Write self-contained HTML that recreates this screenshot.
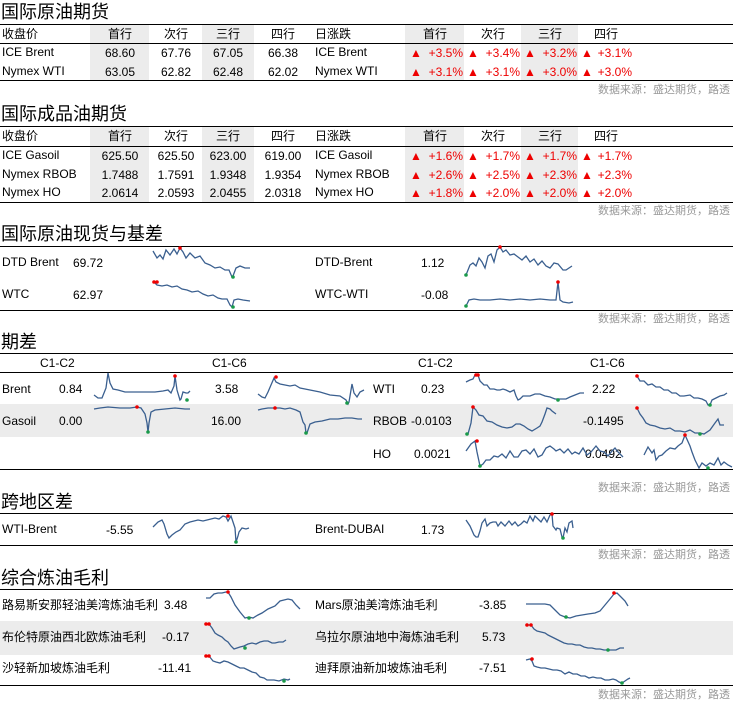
<!DOCTYPE html>
<html><head><meta charset="utf-8"><style>
body{margin:0;width:733px;height:703px;background:#fff;position:relative;overflow:hidden;font-family:"Liberation Sans","Noto Sans CJK SC",sans-serif;font-size:12px;color:#000}
.a{position:absolute;white-space:nowrap;line-height:16px}
.t{position:absolute;font-size:18px;line-height:22px;left:1px}
.l{position:absolute;left:0;width:733px;height:1px;background:#000}
.g{position:absolute;background:#ececec}
.src{position:absolute;right:3px;color:#999;font-size:11px;line-height:14px}
.c{text-align:center;width:60px}
.r{color:#e00;text-align:right;width:54px}
</style></head><body>
<!-- Section 1 -->
<div class="t" style="top:1px">国际原油期货</div>
<div class="g" style="left:90px;top:25px;width:59px;height:55px"></div>
<div class="g" style="left:202px;top:25px;width:52px;height:55px"></div>
<div class="g" style="left:405px;top:25px;width:59px;height:55px"></div>
<div class="g" style="left:521px;top:25px;width:57px;height:55px"></div>
<div class="l" style="top:24px"></div><div class="l" style="top:43px"></div><div class="l" style="top:80px"></div>
<div class="a" style="left:2px;top:26px">收盘价</div>
<div class="a c" style="left:90px;top:26px">首行</div><div class="a c" style="left:146px;top:26px">次行</div><div class="a c" style="left:198px;top:26px">三行</div><div class="a c" style="left:253px;top:26px">四行</div>
<div class="a" style="left:315px;top:26px">日涨跌</div>
<div class="a c" style="left:405px;top:26px">首行</div><div class="a c" style="left:463px;top:26px">次行</div><div class="a c" style="left:520px;top:26px">三行</div><div class="a c" style="left:576px;top:26px">四行</div>
<div class="a" style="left:2px;top:44px">ICE Brent</div><div class="a c" style="left:90px;top:45px">68.60</div><div class="a c" style="left:146px;top:45px">67.76</div><div class="a c" style="left:198px;top:45px">67.05</div><div class="a c" style="left:253px;top:45px">66.38</div><div class="a" style="left:315px;top:44px">ICE Brent</div>
<div class="a" style="left:2px;top:63px">Nymex WTI</div><div class="a c" style="left:90px;top:64px">63.05</div><div class="a c" style="left:146px;top:64px">62.82</div><div class="a c" style="left:198px;top:64px">62.48</div><div class="a c" style="left:253px;top:64px">62.02</div><div class="a" style="left:315px;top:63px">Nymex WTI</div>
<div class="a" style="left:410px;top:45px;color:#e00">▲</div><div class="a r" style="left:409px;top:45px">+3.5%</div>
<div class="a" style="left:467px;top:45px;color:#e00">▲</div><div class="a r" style="left:466px;top:45px">+3.4%</div>
<div class="a" style="left:524px;top:45px;color:#e00">▲</div><div class="a r" style="left:523px;top:45px">+3.2%</div>
<div class="a" style="left:581px;top:45px;color:#e00">▲</div><div class="a r" style="left:578px;top:45px">+3.1%</div>
<div class="a" style="left:410px;top:64px;color:#e00">▲</div><div class="a r" style="left:409px;top:64px">+3.1%</div>
<div class="a" style="left:467px;top:64px;color:#e00">▲</div><div class="a r" style="left:466px;top:64px">+3.1%</div>
<div class="a" style="left:524px;top:64px;color:#e00">▲</div><div class="a r" style="left:523px;top:64px">+3.0%</div>
<div class="a" style="left:581px;top:64px;color:#e00">▲</div><div class="a r" style="left:578px;top:64px">+3.0%</div>
<div class="src" style="top:83px">数据来源：盛达期货，路透</div>
<!-- Section 2 -->
<div class="t" style="top:103px">国际成品油期货</div>
<div class="g" style="left:90px;top:127px;width:59px;height:75px"></div>
<div class="g" style="left:202px;top:127px;width:52px;height:75px"></div>
<div class="g" style="left:405px;top:127px;width:59px;height:75px"></div>
<div class="g" style="left:521px;top:127px;width:57px;height:75px"></div>
<div class="l" style="top:126px"></div><div class="l" style="top:146px"></div><div class="l" style="top:202px"></div>
<div class="a" style="left:2px;top:128px">收盘价</div>
<div class="a c" style="left:90px;top:128px">首行</div><div class="a c" style="left:146px;top:128px">次行</div><div class="a c" style="left:198px;top:128px">三行</div><div class="a c" style="left:253px;top:128px">四行</div>
<div class="a" style="left:315px;top:128px">日涨跌</div>
<div class="a c" style="left:405px;top:128px">首行</div><div class="a c" style="left:463px;top:128px">次行</div><div class="a c" style="left:520px;top:128px">三行</div><div class="a c" style="left:576px;top:128px">四行</div>
<div class="a" style="left:2px;top:147px">ICE Gasoil</div><div class="a c" style="left:90px;top:148px">625.50</div><div class="a c" style="left:146px;top:148px">625.50</div><div class="a c" style="left:198px;top:148px">623.00</div><div class="a c" style="left:253px;top:148px">619.00</div><div class="a" style="left:315px;top:147px">ICE Gasoil</div>
<div class="a" style="left:2px;top:166px">Nymex RBOB</div><div class="a c" style="left:90px;top:167px">1.7488</div><div class="a c" style="left:146px;top:167px">1.7591</div><div class="a c" style="left:198px;top:167px">1.9348</div><div class="a c" style="left:253px;top:167px">1.9354</div><div class="a" style="left:315px;top:166px">Nymex RBOB</div>
<div class="a" style="left:2px;top:184px">Nymex HO</div><div class="a c" style="left:90px;top:185px">2.0614</div><div class="a c" style="left:146px;top:185px">2.0593</div><div class="a c" style="left:198px;top:185px">2.0455</div><div class="a c" style="left:253px;top:185px">2.0318</div><div class="a" style="left:315px;top:184px">Nymex HO</div>
<div class="a" style="left:410px;top:148px;color:#e00">▲</div><div class="a r" style="left:409px;top:148px">+1.6%</div>
<div class="a" style="left:467px;top:148px;color:#e00">▲</div><div class="a r" style="left:466px;top:148px">+1.7%</div>
<div class="a" style="left:524px;top:148px;color:#e00">▲</div><div class="a r" style="left:523px;top:148px">+1.7%</div>
<div class="a" style="left:581px;top:148px;color:#e00">▲</div><div class="a r" style="left:578px;top:148px">+1.7%</div>
<div class="a" style="left:410px;top:167px;color:#e00">▲</div><div class="a r" style="left:409px;top:167px">+2.6%</div>
<div class="a" style="left:467px;top:167px;color:#e00">▲</div><div class="a r" style="left:466px;top:167px">+2.5%</div>
<div class="a" style="left:524px;top:167px;color:#e00">▲</div><div class="a r" style="left:523px;top:167px">+2.3%</div>
<div class="a" style="left:581px;top:167px;color:#e00">▲</div><div class="a r" style="left:578px;top:167px">+2.3%</div>
<div class="a" style="left:410px;top:185px;color:#e00">▲</div><div class="a r" style="left:409px;top:185px">+1.8%</div>
<div class="a" style="left:467px;top:185px;color:#e00">▲</div><div class="a r" style="left:466px;top:185px">+2.0%</div>
<div class="a" style="left:524px;top:185px;color:#e00">▲</div><div class="a r" style="left:523px;top:185px">+2.0%</div>
<div class="a" style="left:581px;top:185px;color:#e00">▲</div><div class="a r" style="left:578px;top:185px">+2.0%</div>
<div class="src" style="top:204px">数据来源：盛达期货，路透</div>
<!-- Section 3 -->
<div class="t" style="top:223px">国际原油现货与基差</div>
<div class="l" style="top:246px"></div><div class="l" style="top:310px"></div>
<div class="a" style="left:2px;top:254px">DTD Brent</div><div class="a" style="left:73px;top:255px">69.72</div>
<div class="a" style="left:2px;top:286px">WTC</div><div class="a" style="left:73px;top:287px">62.97</div>
<div class="a" style="left:315px;top:254px">DTD-Brent</div><div class="a" style="left:421px;top:255px">1.12</div>
<div class="a" style="left:315px;top:286px">WTC-WTI</div><div class="a" style="left:421px;top:287px">-0.08</div>
<div class="src" style="top:312px">数据来源：盛达期货，路透</div>
<!-- Section 4 -->
<div class="t" style="top:331px">期差</div>
<div class="g" style="left:0;top:404px;width:733px;height:33px"></div>
<div class="l" style="top:353px"></div><div class="l" style="top:372px"></div><div class="l" style="top:469px"></div>
<div class="a" style="left:40px;top:355px">C1-C2</div><div class="a" style="left:212px;top:355px">C1-C6</div>
<div class="a" style="left:418px;top:355px">C1-C2</div><div class="a" style="left:590px;top:355px">C1-C6</div>
<div class="a" style="left:2px;top:381px">Brent</div><div class="a" style="left:59px;top:381px">0.84</div><div class="a" style="left:215px;top:381px">3.58</div>
<div class="a" style="left:373px;top:381px">WTI</div><div class="a" style="left:421px;top:381px">0.23</div><div class="a" style="left:592px;top:381px">2.22</div>
<div class="a" style="left:2px;top:413px">Gasoil</div><div class="a" style="left:59px;top:413px">0.00</div><div class="a" style="left:211px;top:413px">16.00</div>
<div class="a" style="left:373px;top:413px">RBOB</div><div class="a" style="left:411px;top:413px">-0.0103</div><div class="a" style="left:583px;top:413px">-0.1495</div>
<div class="a" style="left:373px;top:446px">HO</div><div class="a" style="left:414px;top:446px">0.0021</div><div class="a" style="left:585px;top:446px">0.0492</div>
<div class="src" style="top:481px">数据来源：盛达期货，路透</div>
<!-- Section 5 -->
<div class="t" style="top:491px">跨地区差</div>
<div class="l" style="top:513px"></div><div class="l" style="top:545px"></div>
<div class="a" style="left:2px;top:521px">WTI-Brent</div><div class="a" style="left:106px;top:522px">-5.55</div>
<div class="a" style="left:315px;top:521px">Brent-DUBAI</div><div class="a" style="left:421px;top:522px">1.73</div>
<div class="src" style="top:548px">数据来源：盛达期货，路透</div>
<!-- Section 6 -->
<div class="t" style="top:567px">综合炼油毛利</div>
<div class="g" style="left:0;top:621px;width:733px;height:34px"></div>
<div class="l" style="top:589px"></div><div class="l" style="top:685px"></div>
<div class="a" style="left:2px;top:597px">路易斯安那轻油美湾炼油毛利</div><div class="a" style="left:164px;top:597px">3.48</div>
<div class="a" style="left:2px;top:629px">布伦特原油西北欧炼油毛利</div><div class="a" style="left:162px;top:629px">-0.17</div>
<div class="a" style="left:2px;top:660px">沙轻新加坡炼油毛利</div><div class="a" style="left:158px;top:660px">-11.41</div>
<div class="a" style="left:315px;top:597px">Mars原油美湾炼油毛利</div><div class="a" style="left:479px;top:597px">-3.85</div>
<div class="a" style="left:315px;top:629px">乌拉尔原油地中海炼油毛利</div><div class="a" style="left:482px;top:629px">5.73</div>
<div class="a" style="left:315px;top:660px">迪拜原油新加坡炼油毛利</div><div class="a" style="left:479px;top:660px">-7.51</div>
<div class="src" style="top:688px">数据来源：盛达期货，路透</div>

<svg width="733" height="703" style="position:absolute;left:0;top:0" fill="none" stroke="#3a5f8f" stroke-width="1.3">
<!-- sec3 -->
<polyline points="153,251 157,258 160,255 163,259 166,250 170,255 174,249 177,254 180,248 183,252 186,258 190,253 195,258 200,256 205,263 210,265 215,268 220,267 225,270 229,270 232,277 233,276 236,268 240,266 245,268 250,268"/>
<polyline points="154,282 157,285 162,286 167,285 172,287 177,286 182,289 187,290 192,292 198,291 203,294 208,296 213,295 218,298 222,299 227,299 230,305 232,307 234,300 238,299 243,300 250,301"/>
<polyline points="466,275 470,265 473,263 476,266 479,258 482,262 485,268 488,256 491,254 494,262 497,250 500,247 503,252 506,250 510,255 514,254 518,257 522,260 526,256 530,262 534,259 538,265 542,261 546,266 550,268 554,263 558,264 563,270 566,270 569,268 572,266"/>
<polyline points="466,306 469,300 474,299 480,300 490,300 500,299 510,300 520,299 530,300 540,299 550,300 556,300 558,282 560,300 563,302 569,303 573,302"/>
<!-- sec4 -->
<polyline points="94,395 98,398 102,398 106,388 108,373 110,383 113,389 118,390 125,392 135,392 145,392 155,392 163,391 168,390 171,393 174,386 175,376 177,390 180,400 181,399 183,392 186,393 188,393 190,391"/>
<polyline points="258,394 262,397 265,398 268,392 271,385 274,378 276,382 280,384 285,385 290,386 295,385 300,388 305,389 310,390 320,392 330,395 340,396 346,400 348,404 349,402 352,384 354,393 357,397 360,392 364,390"/>
<polyline points="94,409 100,408 108,407 120,408 130,408 137,407 141,408 145,414 147,423 148,432 149,423 151,412 155,410 165,409 175,408 185,409 190,409"/>
<polyline points="258,410 262,409 268,408 275,408 280,408 285,409 290,408 296,410 300,412 303,422 305,425 306,433 307,433 310,424 315,422 322,421 330,419 338,419 345,418 352,418 358,419 362,419"/>
<polyline points="466,382 470,380 473,379 475,375 478,375 480,381 484,385 487,385 490,389 494,389 497,390 500,390 503,389 506,390 510,392 514,390 516,396 518,400 520,399 523,396 530,396 535,394 540,394 545,396 550,397 555,399 560,399 564,399 566,399 570,397 575,395 580,393 584,393"/>
<polyline points="637,376 640,381 644,381 648,385 652,384 656,387 660,387 664,390 668,390 672,393 676,393 680,396 684,396 690,395 694,398 698,398 702,399 706,401 708,405 710,405 712,400 716,398 720,396 724,395 727,393"/>
<polyline points="466,434 468,434 471,423 473,407 476,410 479,415 483,416 487,421 492,422 497,425 502,427 507,428 512,427 516,424 520,424 524,426 528,429 532,431 537,428 540,426 542,422 545,414 547,408 550,409 552,411 556,414"/>
<polyline points="637,408 640,414 643,418 646,423 650,425 655,426 660,428 665,429 670,428 675,431 680,431 685,432 690,430 695,433 700,433 704,434 710,430 715,423 718,419 720,425 724,425"/>
<polyline points="466,451 471,444 475,441 477,452 480,466 483,464 486,460 490,460 494,456 498,457 502,454 506,458 510,451 514,457 518,457 522,451 526,450 530,454 534,449 538,457 542,455 546,448 550,446 554,449 556,451 560,449 564,453 568,449 572,454 575,452 579,454 583,448 587,455 591,452 596,446 600,451 604,452 608,456 612,451 615,448 618,452 623,457"/>
<polyline points="644,455 648,447 652,453 654,450 656,460 659,456 662,455 666,451 670,448 675,449 678,446 682,443 685,435 690,446 692,452 695,460 699,468 702,463 706,466 710,463 714,465 718,458 721,465 724,462 728,465 732,467"/>
<!-- sec5 -->
<polyline points="153,527 158,522 162,520 164,524 167,534 169,538 172,535 176,532 180,530 185,524 190,522 194,521 198,520 203,521 207,520 211,519 215,518 219,519 223,516 226,517 228,521 231,516 233,522 235,528 236,542 238,536 239,532 242,528 246,529 249,528"/>
<polyline points="466,520 470,526 474,535 476,537 478,537 480,531 482,523 485,519 487,526 490,523 493,522 496,522 498,526 501,522 505,526 509,521 512,525 515,522 518,526 521,524 524,521 527,523 530,516 533,521 535,516 538,519 541,522 544,517 547,522 550,515 552,514 553,526 556,530 557,528 560,529 562,537 563,538 565,528 567,532 569,523 572,521 573,528"/>
<!-- sec6 -->
<polyline points="206,598 210,598 214,594 218,593 222,593 226,592 228,592 231,597 235,605 240,612 245,618 249,617 253,618 258,615 262,613 268,609 275,606 280,601 284,600 288,599 292,600 296,605 300,609"/>
<polyline points="526,604 535,604 545,604 550,605 555,610 560,615 565,617 570,618 576,616 582,615 588,614 595,613 600,611 605,605 610,599 614,594 617,593 620,596 625,601 628,606"/>
<polyline points="206,624 209,624 212,628 215,633 218,635 222,637 225,640 228,642 231,646 234,649 237,648 240,647 244,646 248,644 252,643 256,644 260,642 264,641 268,641 272,643 275,643 279,642 283,642 286,640"/>
<polyline points="528,625 531,625 534,629 537,631 541,632 545,633 548,635 552,637 556,639 560,641 564,643 568,644 572,644 576,645 580,645 584,647 588,648 592,648 596,649 600,649 604,650 608,650 612,650 616,650 620,648 624,648"/>
<polyline points="206,656 209,656 213,661 216,662 220,663 224,661 228,662 232,664 236,666 240,668 244,668 248,670 252,672 256,673 260,677 264,678 267,680 270,680 274,680 279,681 284,679 288,680 290,679"/>
<polyline points="526,660 530,659 532,661 534,666 537,667 541,668 545,668 549,669 553,670 557,670 561,671 565,674 569,672 573,674 577,674 581,676 585,676 589,678 593,677 597,678 601,678 605,680 609,680 613,679 616,680 619,682 622,683 625,681 628,679 630,678"/>
</svg>
<svg width="733" height="703" style="position:absolute;left:0;top:0">
<g fill="#e00"><circle cx="180" cy="248" r="1.8"/><circle cx="154" cy="282" r="1.8"/><circle cx="157" cy="282" r="1.8"/><circle cx="500" cy="247" r="1.8"/><circle cx="558" cy="282" r="1.8"/>
<circle cx="175" cy="376" r="1.8"/><circle cx="276" cy="377" r="1.8"/><circle cx="476" cy="375" r="1.8"/><circle cx="478" cy="375" r="1.8"/><circle cx="637" cy="376" r="1.8"/>
<circle cx="137" cy="407" r="1.8"/><circle cx="275" cy="408" r="1.8"/><circle cx="473" cy="407" r="1.8"/><circle cx="637" cy="408" r="1.8"/>
<circle cx="477" cy="441" r="1.8"/><circle cx="685" cy="435" r="1.8"/><circle cx="228" cy="516" r="1.8"/><circle cx="552" cy="514" r="1.8"/>
<circle cx="228" cy="592" r="1.8"/><circle cx="614" cy="593" r="1.8"/><circle cx="206" cy="624" r="1.8"/><circle cx="209" cy="624" r="1.8"/><circle cx="527" cy="625" r="1.8"/><circle cx="531" cy="625" r="1.8"/>
<circle cx="206" cy="656" r="1.8"/><circle cx="209" cy="656" r="1.8"/><circle cx="532" cy="659" r="1.8"/></g>
<g fill="#1a9a4a"><circle cx="233" cy="277" r="1.8"/><circle cx="233" cy="307" r="1.8"/><circle cx="466" cy="275" r="1.8"/><circle cx="466" cy="306" r="1.8"/>
<circle cx="187" cy="400" r="1.8"/><circle cx="347" cy="403" r="1.8"/><circle cx="558" cy="400" r="1.8"/><circle cx="710" cy="405" r="1.8"/>
<circle cx="148" cy="432" r="1.8"/><circle cx="306" cy="433" r="1.8"/><circle cx="467" cy="434" r="1.8"/><circle cx="700" cy="434" r="1.8"/>
<circle cx="480" cy="466" r="1.8"/><circle cx="708" cy="468" r="1.8"/><circle cx="236" cy="542" r="1.8"/><circle cx="563" cy="538" r="1.8"/>
<circle cx="249" cy="618" r="1.8"/><circle cx="566" cy="617" r="1.8"/><circle cx="245" cy="648" r="1.8"/><circle cx="608" cy="650" r="1.8"/>
<circle cx="284" cy="681" r="1.8"/><circle cx="622" cy="683" r="1.8"/></g>
</svg>
</body></html>
